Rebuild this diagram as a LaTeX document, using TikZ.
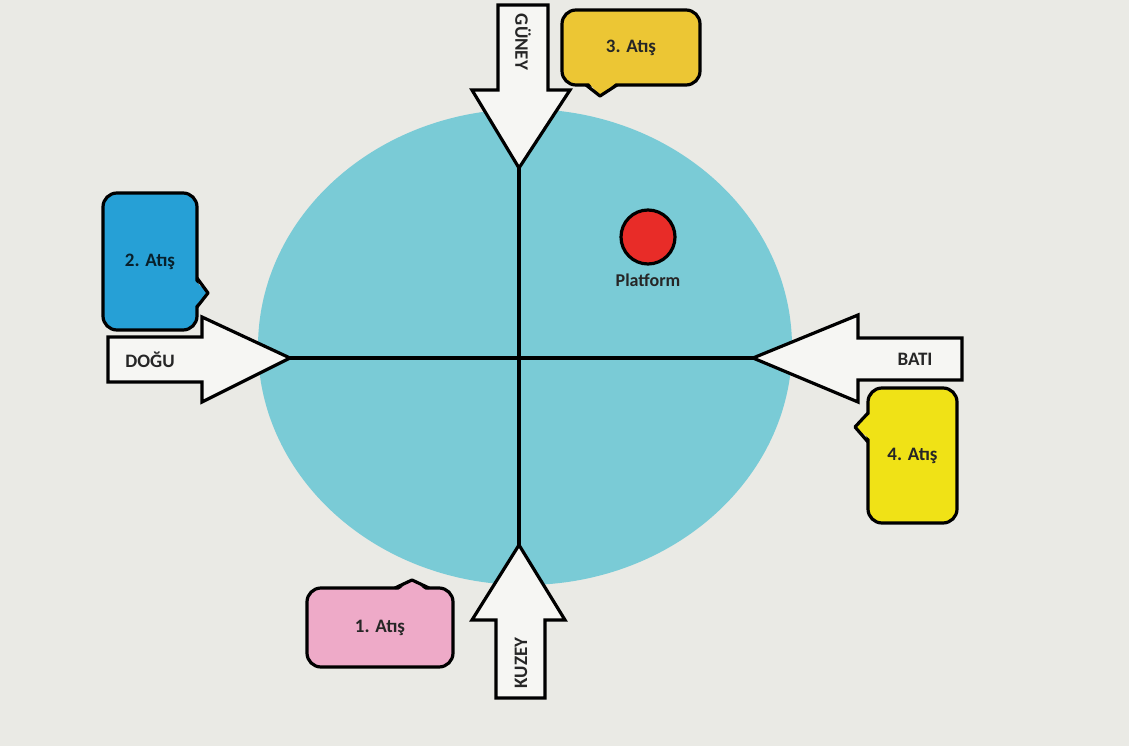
\documentclass[tikz,border=0pt]{standalone}
\usepackage{fontspec}
\setmainfont{Carlito}
\definecolor{bgc}{RGB}{234,234,229}
\definecolor{cyanc}{RGB}{122,203,214}
\definecolor{bluec}{RGB}{38,160,214}
\definecolor{goldc}{RGB}{236,198,52}
\definecolor{yelc}{RGB}{240,226,22}
\definecolor{pinkc}{RGB}{238,170,200}
\definecolor{redc}{RGB}{232,44,40}
\definecolor{arrc}{RGB}{246,246,243}
\tikzset{
  ln/.style={line width=3.2pt, draw=black, line join=round},
  arrowshape/.style={ln, fill=arrc, line join=miter},
  bubble/.style={ln, rounded corners=14pt, inner sep=0pt},
  lbl/.style={font=\fontsize{19}{22}\selectfont\bfseries, text=black!85},
}
\begin{document}
\begin{tikzpicture}[x=1pt,y=-1pt]
\fill[bgc] (0,0) rectangle (1129,746);
\useasboundingbox (0,0) rectangle (1129,746);
% disc
\fill[cyanc] (525,347) ellipse [x radius=267, y radius=238];
% tips
\coordinate (tS) at (519,168);
\coordinate (tN) at (519,545);
\coordinate (tW) at (290,358);
\coordinate (tE) at (753,358);
\draw[ln] (tS) -- (tN);
\draw[ln] (tW) -- (tE);
% GUNEY arrow (down)
\draw[arrowshape] (498,5) -- (548,5) -- (548,90) -- (570,90) -- (tS) -- (472,90) -- (498,90) -- cycle;
\node[lbl, rotate=-90] (guney) at (523,42) {GÜNEY};
% KUZEY arrow (up)
\draw[arrowshape] (496,698) -- (545,698) -- (545,620) -- (565,620) -- (tN) -- (472,620) -- (496,620) -- cycle;
\node[lbl, rotate=90] (kuzey) at (521,663) {KUZEY};
% DOGU arrow (right)
\draw[arrowshape] (108,337) -- (202,337) -- (202,317) -- (tW) -- (202,402) -- (202,382) -- (108,382) -- cycle;
\node[lbl] (dogu) at (150,360) {DOĞU};
% BATI arrow (left)
\draw[arrowshape] (962,338) -- (858,338) -- (858,315) -- (tE) -- (858,402) -- (858,380) -- (962,380) -- cycle;
\node[lbl] (bati) at (915,359) {BATI};
% bubble 3
\node[bubble, fill=goldc, minimum width=138pt, minimum height=75pt, lbl] (b3) at (631,47.5) {3. Atış};
\coordinate (p3) at (600,96);
\fill[goldc] (588,82) -- (p3) -- (617,82) -- cycle;
\draw[ln] (586,85) -- (p3) -- (617,85);
% bubble 2
\node[bubble, fill=bluec, minimum width=94pt, minimum height=137pt, lbl, text=black!80!bluec] (b2) at (150,261.5) {2. Atış};
\coordinate (p2) at (208,293);
\fill[bluec] (194,280) -- (p2) -- (194,307) -- cycle;
\draw[ln] (197,278) -- (p2) -- (197,307);
% bubble 4
\node[bubble, fill=yelc, minimum width=89pt, minimum height=135pt, lbl] (b4) at (912.5,455.5) {4. Atış};
\coordinate (p4) at (855,427);
\fill[yelc] (871,413) -- (p4) -- (871,440) -- cycle;
\draw[ln] (868,413) -- (p4) -- (868,442);
% bubble 1
\node[bubble, fill=pinkc, minimum width=146pt, minimum height=79pt, lbl] (b1) at (380,627.5) {1. Atış};
\coordinate (p1) at (412,580);
\fill[pinkc] (397,591) -- (p1) -- (427,591) -- cycle;
\draw[ln] (395,588) -- (p1) -- (429,588);
% platform
\node[circle, ln, fill=redc, minimum size=54pt, inner sep=0pt] (plat) at (648,237) {};
\node[lbl, font=\fontsize{18}{21}\selectfont\bfseries] (platl) at (648,280) {Platform};
\end{tikzpicture}
\end{document}
